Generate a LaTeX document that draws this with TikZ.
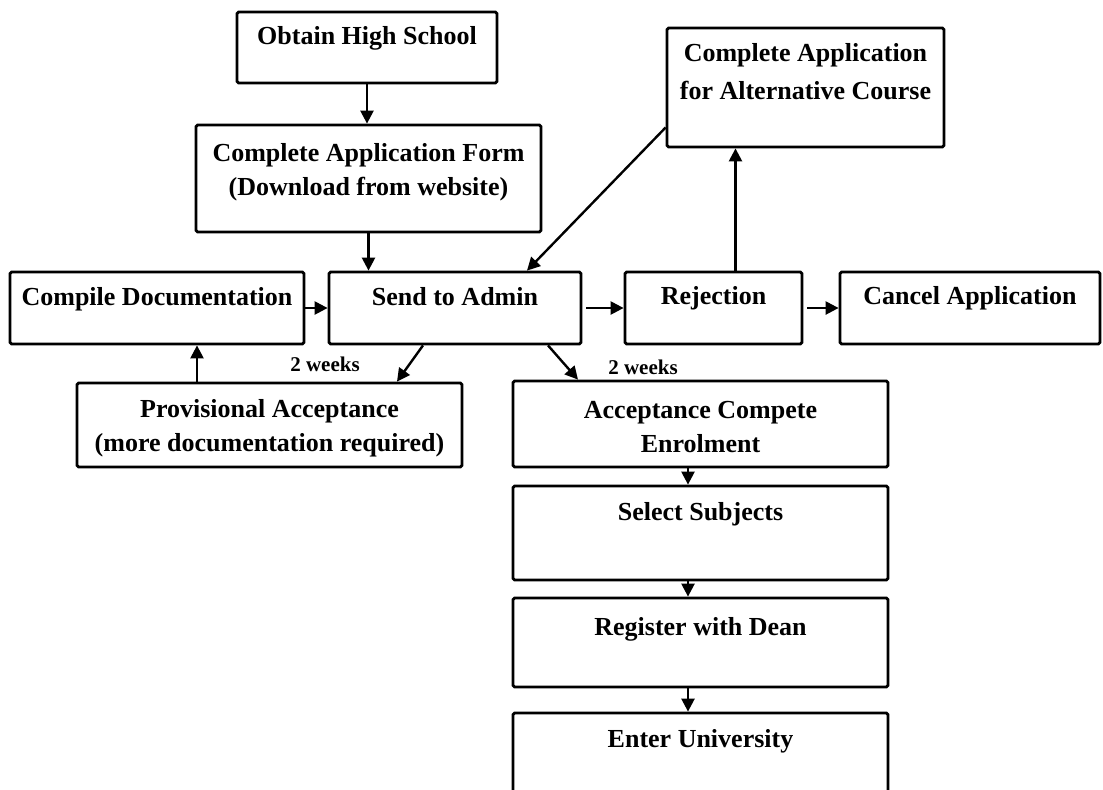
\documentclass[tikz,border=0pt]{standalone}
\usepackage{fontspec}
\setmainfont{Liberation Serif}
\usetikzlibrary{arrows.meta}

\tikzset{
    box/.style = {draw, line width=1.4pt, rectangle, rounded corners=0.8pt, inner sep=0pt},
    txt/.style = {font=\bfseries\fontsize{13}{17}\selectfont, align=center, anchor=center},
    arr/.style = {line width=1.2pt, -{Triangle[length=6.5pt, width=6.5pt]}},
    wk/.style  = {font=\bfseries\fontsize{10.5}{12}\selectfont}
}

\begin{document}
\begin{tikzpicture}[x = 0.5pt, y = -0.5pt]
            \useasboundingbox (0, 0) rectangle (1103, 789);
            % top column
            \node [box, minimum width=130pt, minimum height=35.5pt,
                   label={[txt, yshift=-14pt]north:Obtain High School}] (high) at (367, 47.5) {};
            \node [box, minimum width=172.5pt, minimum height=53.5pt,
                   label={[txt, yshift=-24.5pt]north:Complete Application Form\\(Download from website)}] (form) at (368.5, 178.5) {};
            \node [box, minimum width=138.5pt, minimum height=59.5pt,
                   label={[txt, yshift=-22.5pt, font=\bfseries\fontsize{13}{19}\selectfont]north:Complete Application\\for Alternative Course}] (alt) at (805.5, 87.5) {};

            % middle row
            \node [box, minimum width=147pt, minimum height=36pt,
                   label={[txt, yshift=-14.5pt]north:Compile Documentation}] (compile) at (157, 308) {};
            \node [box, minimum width=126pt, minimum height=36pt,
                   label={[txt, yshift=-13pt]north:Send to Admin}] (send) at (455, 308) {};
            \node [box, minimum width=88.5pt, minimum height=36pt,
                   label={[txt, yshift=-14pt]north:Rejection}] (reject) at (713.5, 308) {};
            \node [box, minimum width=130pt, minimum height=36pt,
                   label={[txt, yshift=-14pt]north:Cancel Application}] (cancel) at (970, 308) {};

            % lower part
            \node [box, minimum width=192.5pt, minimum height=42pt,
                   label={[txt, yshift=-23.25pt]north:Provisional Acceptance\\(more documentation required)}] (prov) at (269.5, 425) {};
            \node [box, minimum width=187.5pt, minimum height=43pt,
                   label={[txt, yshift=-23.5pt]north:Acceptance Compete\\Enrolment}] (accept) at (700.5, 424) {};
            \node [box, minimum width=187.5pt, minimum height=47pt,
                   label={[txt, yshift=-15pt]north:Select Subjects}] (subj) at (700.5, 533) {};
            \node [box, minimum width=187.5pt, minimum height=44.5pt,
                   label={[txt, yshift=-16.5pt]north:Register with Dean}] (dean) at (700.5, 642.5) {};
            \node [box, minimum width=187.5pt, minimum height=41pt,
                   label={[txt, yshift=-15pt]north:Enter University}] (uni) at (700.5, 754) {};

            \node [wk] (wka) at (325, 364) {2 weeks};
            \node [wk] (wkb) at (643, 367) {2 weeks};

            % arrows
            \draw [arr] (high.south) -- (high.south |- form.north);
            \draw [arr] (form.south) -- (form.south |- send.north);
            \draw [arr] ([yshift=-20pt]alt.west) -- ([xshift=36pt]send.north);
            \coordinate (rj) at ([xshift=11pt]reject.north);
            \draw [arr] (rj) -- (rj |- alt.south);
            \draw [arr] (compile.east) -- (send.west);
            \draw [arr, shorten <=2pt] (send.east) -- (reject.west);
            \draw [arr, shorten <=2pt] (reject.east) -- (cancel.west);
            \coordinate (pv) at ([xshift=-36.25pt]prov.north);
            \draw [arr] (pv) -- (pv |- compile.south);
            \draw [arr] ([xshift=-16pt]send.south) -- ([xshift=63.75pt]prov.north);
            \draw [arr] ([xshift=46.5pt]send.south) -- ([xshift=-61.25pt]accept.north);
            \coordinate (ac) at ([xshift=-6.25pt]accept.south);
            \draw [arr] (ac) -- (ac |- subj.north);
            \draw [arr] (ac |- subj.south) -- (ac |- dean.north);
            \draw [arr] (ac |- dean.south) -- (ac |- uni.north);
\end{tikzpicture}
\end{document}
